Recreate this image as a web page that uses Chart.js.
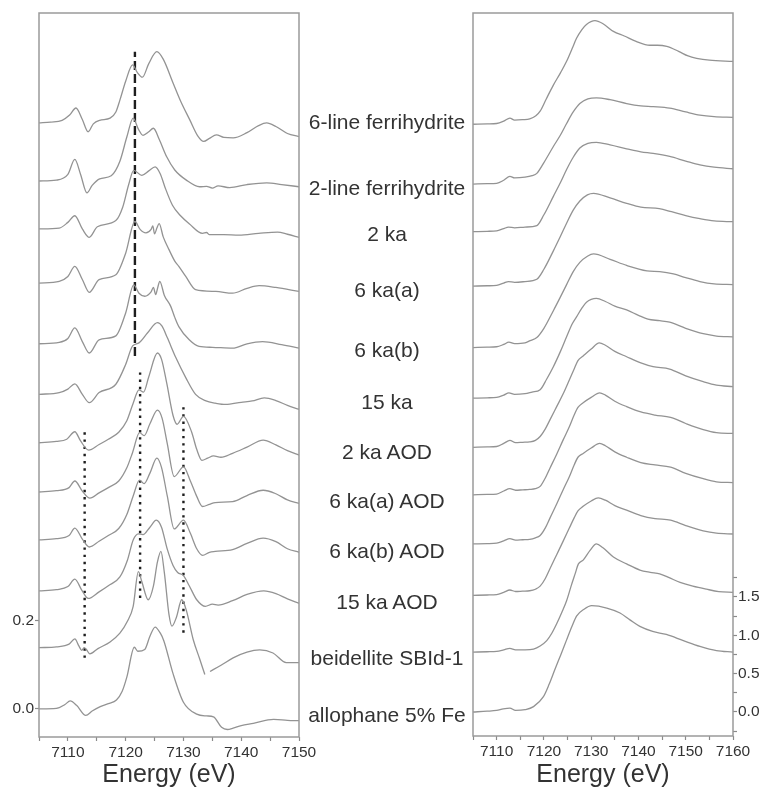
<!DOCTYPE html>
<html>
<head>
<meta charset="utf-8">
<script src="https://cdn.jsdelivr.net/npm/chart.js@4.4.0/dist/chart.umd.min.js"></script>
<style>
  body { margin: 0; background: #fff; width: 763px; height: 795px; position: relative; overflow: hidden;
         font-family: "Liberation Sans", Arial, sans-serif; }
  canvas { position: absolute; top: 0; }
  #leftChart { left: 0; }
  #rightChart { left: 440px; }
  .lbl { position: absolute; left: 387px; transform: translate(-50%, -50%); font-size: 21px; line-height: 1;
         color: #333; white-space: nowrap; z-index: 2; }
</style>
</head>
<body>
<canvas id="leftChart" width="320" height="795"></canvas>
<canvas id="rightChart" width="323" height="795"></canvas>
<script>
// sample names, top to bottom
const sampleNames = ['6-line ferrihydrite', '2-line ferrihydrite', '2 ka', '6 ka(a)', '6 ka(b)', '15 ka',
  '2 ka AOD', '6 ka(a) AOD', '6 ka(b) AOD', '15 ka AOD', 'beidellite SBId-1', 'allophane 5% Fe'];

// vertical offsets used to stack the spectra
const derivOffsets = [1.332, 1.200, 1.091, 0.968, 0.830, 0.715, 0.605, 0.493, 0.384, 0.268, 0.139, 0.0];
const xanesOffsets = [7.66, 6.88, 6.26, 5.55, 4.75, 4.09, 3.45, 2.83, 2.19, 1.52, 0.78, 0.0];

// tick values
const derivTickValues = [0, 0.2];
const xanesTickValues = [0, 0.5, 1, 1.5];
const xanesMinorTicks = [-0.25, 0.25, 0.75, 1.25, 1.75];

// first derivative spectra [energy eV, dmu/dE]
const deriv6line = [[7105,0],[7107,0.002],[7109,0.006],[7110.3,0.018],[7111.4,0.034],[7112.5,0.008],[7113.5,-0.020],[7114.4,-0.002],[7115.5,0.006],[7117.3,0.011],[7118.3,0.025],[7119,0.052],[7120,0.095],[7121.2,0.132],[7122,0.115],[7122.9,0.104],[7124,0.135],[7125.4,0.162],[7126.5,0.145],[7128.2,0.091],[7129.5,0.05],[7131.1,0.007],[7132.5,-0.030],[7133.5,-0.042],[7134.5,-0.035],[7135.7,-0.027],[7137,-0.033],[7138.6,-0.034],[7141,-0.022],[7143,-0.006],[7144.4,0],[7146,-0.008],[7148,-0.024],[7150,-0.031]];
const deriv2line = [[7105,0],[7108,0.002],[7110,0.015],[7111.2,0.049],[7112.2,0.015],[7113.3,-0.027],[7114.2,-0.010],[7115.5,0.005],[7117.5,0.012],[7119,0.045],[7120.2,0.100],[7121.3,0.143],[7122.2,0.118],[7123,0.104],[7124,0.112],[7124.8,0.120],[7125.8,0.095],[7127.1,0.055],[7128.5,0.025],[7130.5,0.002],[7132.8,-0.013],[7134,-0.012],[7135,-0.016],[7136,-0.011],[7138,-0.015],[7141,-0.008],[7144.4,-0.004],[7147,-0.008],[7150,-0.013]];
const deriv2ka = [[7105,0],[7108.5,0.002],[7110,0.015],[7111.2,0.030],[7112.5,0],[7113.7,-0.019],[7115.1,0.005],[7118.3,0.019],[7119.5,0.050],[7120.5,0.100],[7121.4,0.133],[7122.8,0.122],[7124,0.132],[7125.1,0.141],[7126,0.125],[7126.8,0.095],[7128.1,0.054],[7129.5,0.030],[7131,0.012],[7133.3,-0.010],[7134,-0.008],[7134.5,-0.013],[7137,-0.013],[7139.6,-0.014],[7143,-0.010],[7146.3,-0.007],[7148,-0.012],[7150,-0.019]];
const deriv6kaA = [[7105,0],[7108.5,0.004],[7110,0.015],[7111.2,0.038],[7112.5,0.008],[7113.7,-0.021],[7115.4,0.008],[7118.3,0.019],[7120,0.068],[7121.6,0.140],[7122.5,0.122],[7123.5,0.114],[7124.4,0.122],[7124.7,0.130],[7125,0.112],[7125.4,0.125],[7125.8,0.135],[7126.5,0.105],[7127.5,0.076],[7128.5,0.050],[7129.2,0.038],[7130.4,0.015],[7132.1,-0.015],[7135.6,-0.019],[7138.5,-0.023],[7141,-0.012],[7143.1,-0.006],[7146,-0.010],[7150,-0.019]];
const deriv6kaB = [[7105,0],[7108.5,0.003],[7110,0.012],[7111.2,0.036],[7112.5,0.005],[7113.7,-0.021],[7115.4,0.009],[7118.3,0.018],[7120,0.070],[7121.4,0.134],[7122.3,0.115],[7123.3,0.108],[7124.4,0.118],[7124.8,0.128],[7125.2,0.112],[7125.5,0.125],[7125.9,0.142],[7126.7,0.110],[7127.8,0.085],[7128.5,0.060],[7129.2,0.039],[7131,0.009],[7132.7,-0.006],[7135,-0.008],[7138.5,-0.010],[7141,0],[7143.7,0.005],[7147,-0.002],[7150,-0.010]];
const deriv15ka = [[7105,0],[7108.5,0.004],[7110,0.012],[7111.2,0.024],[7112.5,0],[7113.7,-0.019],[7115.4,0.004],[7118.3,0.023],[7120,0.068],[7121.2,0.110],[7122.3,0.117],[7123.8,0.140],[7125.5,0.163],[7126.3,0.155],[7127.2,0.129],[7128.7,0.083],[7130.4,0.038],[7132.1,0],[7133.9,-0.015],[7135.5,-0.020],[7137.3,-0.023],[7140,-0.018],[7141.9,-0.015],[7144,-0.008],[7146,-0.014],[7148,-0.025],[7150,-0.034]];
const deriv2kaAOD = [[7105,0],[7108,0.003],[7109.8,0.008],[7111.2,0.025],[7112.2,0.004],[7113.6,-0.017],[7115.4,-0.004],[7117,0.008],[7118.8,0.024],[7120.2,0.050],[7121.3,0.090],[7122.3,0.120],[7123.1,0.115],[7124,0.150],[7125.5,0.204],[7126.2,0.190],[7127.1,0.136],[7128.2,0.062],[7128.9,0.042],[7130,0.060],[7131.4,0.025],[7132.3,-0.015],[7133.2,-0.040],[7134.2,-0.035],[7135.2,-0.030],[7136.5,-0.033],[7138.5,-0.024],[7141,-0.010],[7143.8,0.006],[7146,-0.005],[7148,-0.018],[7150,-0.028]];
const deriv6kaAAOD = [[7105,0],[7108,0.003],[7110.2,0.010],[7111.2,0.025],[7112.5,0.002],[7113.8,-0.014],[7115.4,-0.002],[7117,0.010],[7118.8,0.025],[7120.2,0.055],[7121.2,0.090],[7122.4,0.135],[7123.2,0.128],[7124.2,0.155],[7125.5,0.186],[7126.3,0.168],[7127.2,0.110],[7128.4,0.035],[7130,0.057],[7131.2,0.025],[7132.3,-0.010],[7133.3,-0.033],[7134.5,-0.028],[7135.5,-0.024],[7138.5,-0.022],[7141,-0.008],[7143.8,0.004],[7146,-0.004],[7148,-0.018],[7150,-0.026]];
const deriv6kaBAOD = [[7105,0],[7108,0.003],[7110.2,0.010],[7111.2,0.027],[7112.5,0.002],[7113.7,-0.016],[7115.4,-0.003],[7117,0.010],[7118.8,0.026],[7120.2,0.058],[7121.3,0.100],[7122.4,0.136],[7123.2,0.128],[7124.2,0.152],[7125.4,0.186],[7126.2,0.165],[7127.2,0.100],[7128.4,0.025],[7130,0.045],[7131.2,0.015],[7132.3,-0.020],[7133.3,-0.035],[7134.5,-0.028],[7135.5,-0.026],[7138.5,-0.022],[7141,-0.008],[7143.8,0.004],[7146,-0.004],[7148,-0.020],[7150,-0.028]];
const deriv15kaAOD = [[7105,0],[7108,0.003],[7110,0.010],[7111.2,0.027],[7112.4,0.002],[7113.5,-0.017],[7115.4,-0.002],[7117,0.012],[7119,0.032],[7120.3,0.070],[7121.3,0.116],[7122.2,0.130],[7123,0.128],[7124.2,0.145],[7125.3,0.161],[7126.2,0.145],[7127.2,0.095],[7128.2,0.058],[7129,0.042],[7130,0.035],[7131,0.012],[7132.3,-0.020],[7133.8,-0.035],[7135,-0.030],[7136,-0.032],[7138.5,-0.022],[7141,-0.008],[7143.9,0],[7146,-0.006],[7148,-0.018],[7150,-0.028]];
const derivBeidellite = [[7105,0],[7108,0.002],[7110.2,0.008],[7111.2,0.020],[7111.9,0.004],[7112.4,-0.006],[7112.8,0],[7113.2,-0.004],[7113.8,-0.014],[7115.2,-0.002],[7117.3,0.013],[7119,0.033],[7120.3,0.060],[7121.3,0.094],[7122.2,0.173],[7122.8,0.150],[7123.9,0.109],[7124.8,0.140],[7125.5,0.195],[7126.1,0.219],[7126.7,0.170],[7127.5,0.075],[7128,0.049],[7128.8,0.070],[7129.7,0.109],[7130.5,0.085],[7131.7,0.018],[7132.8,-0.025],[7133.7,-0.061],[7134.1,null],[7134.6,-0.054],[7136.5,-0.040],[7138.6,-0.023],[7141,-0.010],[7143.2,-0.005],[7145.5,-0.012],[7147.8,-0.034],[7150,-0.034]];
const derivAllophane = [[7105,0],[7108,0.001],[7109.5,0.010],[7110.4,0.018],[7111.5,0.008],[7113.1,-0.015],[7114.2,-0.005],[7115.6,0.005],[7117,0.012],[7118.4,0.020],[7119.4,0.040],[7120.2,0.072],[7121.5,0.140],[7122.1,0.131],[7123.3,0.135],[7124.2,0.165],[7125.1,0.186],[7126,0.172],[7126.6,0.155],[7128.2,0.080],[7130,0.015],[7132.3,-0.012],[7134,-0.016],[7135.2,-0.018],[7136.6,-0.042],[7137.6,-0.047],[7138.6,-0.044],[7140,-0.038],[7142.1,-0.033],[7145.6,-0.024],[7148,-0.026],[7150,-0.027]];

// normalized XANES spectra [energy eV, normalized absorbance]
const xanes6line = [[7105,0],[7108,0.005],[7110,0.01],[7111.5,0.04],[7112.8,0.08],[7113.8,0.055],[7115.5,0.06],[7117,0.07],[7118.3,0.11],[7119.2,0.17],[7120.5,0.33],[7122,0.51],[7123.5,0.67],[7124.8,0.82],[7126,0.99],[7126.9,1.12],[7128,1.23],[7129,1.30],[7130.8,1.35],[7132.5,1.31],[7134.7,1.21],[7137,1.15],[7139.5,1.08],[7142.4,1.03],[7144,1.03],[7146,1.015],[7148.5,0.95],[7150.5,0.89],[7152.3,0.86],[7155,0.835],[7160,0.82]];
const xanes2line = [[7105,0],[7108,0.005],[7110,0.01],[7111.5,0.05],[7112.8,0.10],[7113.8,0.08],[7116,0.09],[7117.5,0.11],[7118.5,0.14],[7120,0.28],[7122,0.49],[7123.5,0.64],[7124.8,0.79],[7126.2,0.94],[7127.6,1.05],[7129.3,1.11],[7131.1,1.125],[7134,1.10],[7137.5,1.05],[7140.5,1.02],[7143.1,1.01],[7146.6,0.99],[7150,0.94],[7153,0.90],[7156,0.88],[7160,0.87]];
const xanes2ka = [[7105,0],[7108,0.005],[7110,0.01],[7111.5,0.04],[7112.5,0.06],[7113.8,0.05],[7116,0.06],[7118.5,0.08],[7120,0.22],[7122,0.46],[7123.5,0.64],[7124.8,0.81],[7126.2,0.97],[7127.6,1.09],[7129.3,1.15],[7131.1,1.165],[7134,1.13],[7137.5,1.08],[7140.5,1.04],[7143.1,1.02],[7146.6,0.98],[7150,0.92],[7153,0.87],[7156,0.84],[7160,0.82]];
const xanes6kaA = [[7105,0],[7108,0.005],[7110,0.01],[7111.5,0.04],[7112.5,0.06],[7113.8,0.05],[7116,0.06],[7118.5,0.09],[7120,0.22],[7122,0.46],[7123.5,0.65],[7124.8,0.82],[7126.2,0.99],[7127.6,1.11],[7129.2,1.19],[7130.5,1.21],[7134,1.15],[7137.5,1.08],[7140.5,1.03],[7144.4,1.01],[7147,0.97],[7150,0.92],[7153,0.88],[7156,0.85],[7160,0.84]];
const xanes6kaB = [[7105,0],[7108,0.005],[7110,0.01],[7111.5,0.04],[7112.6,0.07],[7113.8,0.05],[7116,0.06],[7117.1,0.09],[7118.5,0.13],[7120,0.25],[7122,0.48],[7123.5,0.66],[7124.8,0.82],[7126.2,0.99],[7127.6,1.11],[7129.2,1.19],[7130.5,1.22],[7134,1.15],[7137.5,1.07],[7141.8,1.00],[7144.5,0.99],[7147.4,0.96],[7150,0.91],[7153,0.86],[7156,0.83],[7160,0.82]];
const xanes15ka = [[7105,0],[7108,0.005],[7110,0.01],[7111.5,0.04],[7112.6,0.07],[7113.8,0.05],[7116,0.06],[7117.5,0.08],[7119.2,0.11],[7120.6,0.25],[7122,0.41],[7123.5,0.61],[7124.8,0.80],[7126,0.97],[7126.9,1.06],[7128,1.17],[7129,1.25],[7131.1,1.30],[7133,1.26],[7135,1.20],[7137.5,1.15],[7140,1.08],[7142,1.03],[7144.5,1.01],[7146.6,0.99],[7150,0.91],[7153.7,0.84],[7156.5,0.81],[7160,0.80]];
const xanes2kaAOD = [[7105,0],[7108,0.005],[7110,0.01],[7111.5,0.05],[7112.8,0.09],[7114,0.06],[7115.5,0.065],[7117,0.07],[7118.2,0.09],[7119.2,0.14],[7120.3,0.24],[7121.3,0.36],[7122.7,0.53],[7124.1,0.70],[7125.4,0.88],[7126.4,1.02],[7127.2,1.13],[7128.3,1.19],[7130,1.28],[7131.7,1.36],[7133,1.33],[7135,1.25],[7137.5,1.18],[7140.5,1.10],[7143.1,1.05],[7146.6,1.02],[7150,0.93],[7153.7,0.855],[7156.5,0.81],[7160,0.79]];
const xanes6kaAAOD = [[7105,0],[7108,0.005],[7110,0.01],[7111.5,0.05],[7112.8,0.08],[7114,0.06],[7115.5,0.065],[7117,0.07],[7118.2,0.08],[7119.2,0.11],[7120.3,0.22],[7121.3,0.35],[7122.7,0.53],[7124.1,0.72],[7125.4,0.89],[7126.4,1.04],[7127.2,1.14],[7128.3,1.20],[7130,1.27],[7131.8,1.33],[7133,1.30],[7135,1.22],[7137.5,1.15],[7140.5,1.08],[7143.5,1.04],[7146.8,1.01],[7150,0.93],[7153.7,0.85],[7156.5,0.81],[7160,0.80]];
const xanes6kaBAOD = [[7105,0],[7108,0.005],[7110,0.01],[7111.5,0.04],[7112.8,0.07],[7114,0.05],[7115.5,0.055],[7117,0.06],[7118.2,0.08],[7119.2,0.11],[7120.3,0.21],[7121.3,0.34],[7122.7,0.52],[7124.1,0.71],[7125.4,0.88],[7126.4,1.03],[7127.2,1.13],[7128.3,1.18],[7130,1.25],[7131.8,1.31],[7133,1.28],[7135,1.20],[7137.5,1.13],[7140.5,1.06],[7143.5,1.03],[7146.8,1.00],[7150,0.92],[7153.7,0.85],[7156.5,0.81],[7160,0.80]];
const xanes15kaAOD = [[7105,0],[7108,0.005],[7110,0.01],[7111.5,0.04],[7112.8,0.07],[7114,0.05],[7115.5,0.055],[7117,0.06],[7118.2,0.08],[7119.2,0.12],[7120.3,0.22],[7121.3,0.35],[7122.7,0.53],[7124.1,0.71],[7125.4,0.88],[7126.4,1.01],[7127.2,1.10],[7128.3,1.16],[7130,1.23],[7131.5,1.27],[7133,1.24],[7135,1.17],[7137.5,1.11],[7140.5,1.04],[7143.5,1.00],[7146.8,0.98],[7150,0.91],[7153.7,0.84],[7156.5,0.81],[7160,0.80]];
const xanesBeidellite = [[7105,0],[7108,0.005],[7110,0.01],[7111.5,0.03],[7112.8,0.05],[7114,0.03],[7116,0.03],[7117.8,0.04],[7119.2,0.08],[7120.6,0.15],[7121.7,0.25],[7122.7,0.37],[7123.8,0.52],[7124.8,0.67],[7125.8,0.87],[7126.6,1.02],[7127.3,1.15],[7128.3,1.20],[7129.8,1.33],[7131.1,1.41],[7132.5,1.36],[7134.7,1.24],[7137.5,1.15],[7140.3,1.07],[7142.5,1.04],[7144.5,1.02],[7146.5,0.97],[7148.8,0.91],[7151.5,0.86],[7154.4,0.82],[7157,0.79],[7160,0.78]];
const xanesAllophane = [[7105,0],[7108,0.01],[7110,0.02],[7111.4,0.04],[7112.8,0.05],[7114,0.02],[7116,0.03],[7117.8,0.07],[7119.9,0.20],[7121.1,0.36],[7122.3,0.55],[7123.6,0.75],[7124.8,0.94],[7125.9,1.11],[7126.9,1.25],[7128.5,1.34],[7130.1,1.385],[7133.3,1.355],[7136.1,1.29],[7138.2,1.20],[7140.3,1.115],[7143,1.05],[7145.9,1.01],[7149.5,0.93],[7153,0.855],[7156.5,0.80],[7160,0.78]];

// guide lines on the derivative panel: [energy, y from, y to]
const dashedGuide = [7121.6, 0.802, 1.494];
const dottedGuides = [[7112.9, 0.116, 0.630], [7122.5, 0.252, 0.766], [7130.0, 0.173, 0.691]];

// label centres (px) in the gap between panels
const labelCenters = [120.5, 187, 232.5, 289, 349, 401, 451, 500, 550, 601, 657, 713.5];

const derivSpectra = [deriv6line, deriv2line, deriv2ka, deriv6kaA, deriv6kaB, deriv15ka,
  deriv2kaAOD, deriv6kaAAOD, deriv6kaBAOD, deriv15kaAOD, derivBeidellite, derivAllophane];
const xanesSpectra = [xanes6line, xanes2line, xanes2ka, xanes6kaA, xanes6kaB, xanes15ka,
  xanes2kaAOD, xanes6kaAAOD, xanes6kaBAOD, xanes15kaAOD, xanesBeidellite, xanesAllophane];

Chart.defaults.font.family = '"Liberation Sans", Arial, sans-serif';
Chart.defaults.color = '#333';

function stack(spectra, offsets) {
  return spectra.map((pts, i) => ({
    label: sampleNames[i],
    data: pts.map(([x, y]) => ({ x, y: y === null ? null : y + offsets[i] })),
    showLine: true, borderColor: '#939393', borderWidth: 1.3, pointRadius: 0,
    cubicInterpolationMode: 'monotone', spanGaps: false, fill: false
  }));
}
function guide(g, dash) {
  return { data: [{ x: g[0], y: g[1] }, { x: g[0], y: g[2] }], showLine: true, borderColor: '#1e1e1e',
           borderWidth: 2.4, borderDash: dash, borderCapStyle: 'butt', pointRadius: 0, tension: 0 };
}

const frame = {
  id: 'frame',
  afterDraw(chart) {
    const { ctx, chartArea: a } = chart;
    ctx.save(); ctx.strokeStyle = '#9a9a9a'; ctx.lineWidth = 1.5;
    ctx.strokeRect(a.left, a.top, a.right - a.left, a.bottom - a.top);
    ctx.restore();
  }
};

const tickFont = { size: 15.5 };
const titleOpts = { display: true, text: 'Energy (eV)', color: '#333', font: { size: 25 }, padding: { top: 0, bottom: 5 } };
const tickGrid = { display: true, drawOnChartArea: false, tickLength: 4, color: '#8a8a8a', tickWidth: 1.2 };

new Chart(document.getElementById('leftChart'), {
  type: 'scatter',
  data: { datasets: [...stack(derivSpectra, derivOffsets), guide(dashedGuide, [9, 4]),
    ...dottedGuides.map(g => guide(g, [2.4, 4.8]))] },
  options: {
    responsive: false, animation: false, events: [],
    layout: { padding: { left: 0, top: 13, right: 21, bottom: 0 } },
    plugins: { legend: { display: false }, tooltip: { enabled: false } },
    scales: {
      x: { type: 'linear', min: 7105, max: 7150,
        ticks: { stepSize: 5, autoSkip: false, maxRotation: 0, padding: 2, font: tickFont, callback: v => v % 10 === 0 ? v : '' },
        grid: tickGrid, border: { display: false }, title: titleOpts,
        afterFit: s => { s.height = 58; s.paddingLeft = 0; s.paddingRight = 0; } },
      y: { type: 'linear', min: -0.064, max: 1.582,
        afterBuildTicks: s => { s.ticks = derivTickValues.map(v => ({ value: v })); },
        ticks: { padding: 1, font: tickFont, callback: v => Number(v).toFixed(1) },
        grid: tickGrid, border: { display: false },
        afterFit: s => { s.width = 39; s.paddingTop = 0; s.paddingBottom = 0; } }
    }
  },
  plugins: [frame]
});

new Chart(document.getElementById('rightChart'), {
  type: 'scatter',
  data: { datasets: stack(xanesSpectra, xanesOffsets) },
  options: {
    responsive: false, animation: false, events: [],
    layout: { padding: { left: 33, top: 13, right: 0, bottom: 0 } },
    plugins: { legend: { display: false }, tooltip: { enabled: false } },
    scales: {
      x: { type: 'linear', min: 7105, max: 7160,
        ticks: { stepSize: 5, autoSkip: false, maxRotation: 0, padding: 2, font: tickFont, callback: v => v % 10 === 0 ? v : '' },
        grid: tickGrid, border: { display: false }, title: titleOpts,
        afterFit: s => { s.height = 59; s.paddingLeft = 0; s.paddingRight = 0; } },
      y: { type: 'linear', position: 'right', min: -0.313, max: 9.11,
        afterBuildTicks: s => { s.ticks = [...xanesTickValues, ...xanesMinorTicks].sort((a, b) => a - b).map(v => ({ value: v })); },
        ticks: { padding: 1, font: tickFont, callback: v => xanesTickValues.includes(v) ? Number(v).toFixed(1) : '' },
        grid: tickGrid, border: { display: false },
        afterFit: s => { s.width = 30; s.paddingTop = 0; s.paddingBottom = 0; } }
    }
  },
  plugins: [frame]
});

sampleNames.forEach((name, i) => {
  const d = document.createElement('div');
  d.className = 'lbl';
  d.style.top = labelCenters[i] + 'px';
  d.textContent = name;
  document.body.appendChild(d);
});
</script>
</body>
</html>
